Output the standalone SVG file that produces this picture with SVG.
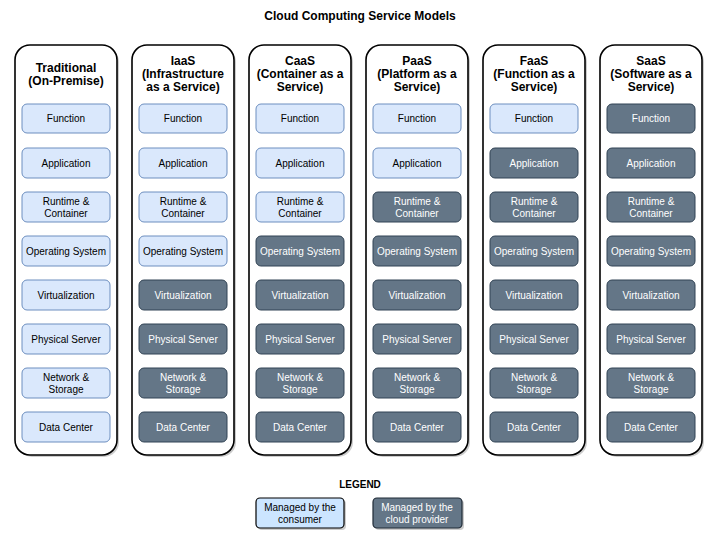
<svg xmlns="http://www.w3.org/2000/svg" width="721" height="542" viewBox="0 0 721 542">
<style>
text{font-family:"Liberation Sans",Arial,sans-serif;text-anchor:middle}
.t{font-size:12px;font-weight:bold;fill:#000}
.h{font-size:12px;font-weight:bold;fill:#000}
.col{fill:#fff;stroke:#000;stroke-width:1.6}
.sh{fill:#999;opacity:0.5}
.c{fill:#dae8fc;stroke:#6c8ebf;stroke-width:1}
.p{fill:#647687;stroke:#314354;stroke-width:1}
.ct{font-size:10px;fill:#000}
.pt{font-size:10px;fill:#fff}
.lc{fill:#cce5ff;stroke:#000;stroke-width:1.2}
.lp{fill:#647687;stroke:#1f2a36;stroke-width:1.2}
</style>
<defs>
<g id="colbg"><rect class="sh" x="2" y="2" width="102" height="410" rx="15"/><rect class="col" x="0" y="0" width="102" height="410" rx="15"/></g>
</defs>
<text class="t" x="360" y="20">Cloud Computing Service Models</text>

<g id="col-traditional">
<use href="#colbg" x="15" y="45"/>
<text class="h" x="66" y="72">Traditional</text>
<text class="h" x="66" y="85">(On-Premise)</text>
<rect class="c" x="22" y="104" width="88" height="29" rx="5"/><text class="ct" x="66" y="122">Function</text>
<rect class="c" x="22" y="148" width="88" height="30" rx="5"/><text class="ct" x="66" y="167">Application</text>
<rect class="c" x="22" y="192" width="88" height="30" rx="5"/><text class="ct" x="66" y="205">Runtime &amp;</text><text class="ct" x="66" y="217">Container</text>
<rect class="c" x="22" y="236" width="88" height="30" rx="5"/><text class="ct" x="66" y="255">Operating System</text>
<rect class="c" x="22" y="280" width="88" height="30" rx="5"/><text class="ct" x="66" y="299">Virtualization</text>
<rect class="c" x="22" y="324" width="88" height="30" rx="5"/><text class="ct" x="66" y="343">Physical Server</text>
<rect class="c" x="22" y="368" width="88" height="30" rx="5"/><text class="ct" x="66" y="381">Network &amp;</text><text class="ct" x="66" y="393">Storage</text>
<rect class="c" x="22" y="412" width="88" height="30" rx="5"/><text class="ct" x="66" y="431">Data Center</text>
</g>

<g id="col-iaas">
<use href="#colbg" x="132" y="45"/>
<text class="h" x="183" y="65">IaaS</text>
<text class="h" x="183" y="78">(Infrastructure</text>
<text class="h" x="183" y="91">as a Service)</text>
<rect class="c" x="139" y="104" width="88" height="29" rx="5"/><text class="ct" x="183" y="122">Function</text>
<rect class="c" x="139" y="148" width="88" height="30" rx="5"/><text class="ct" x="183" y="167">Application</text>
<rect class="c" x="139" y="192" width="88" height="30" rx="5"/><text class="ct" x="183" y="205">Runtime &amp;</text><text class="ct" x="183" y="217">Container</text>
<rect class="c" x="139" y="236" width="88" height="30" rx="5"/><text class="ct" x="183" y="255">Operating System</text>
<rect class="p" x="139" y="280" width="88" height="30" rx="5"/><text class="pt" x="183" y="299">Virtualization</text>
<rect class="p" x="139" y="324" width="88" height="30" rx="5"/><text class="pt" x="183" y="343">Physical Server</text>
<rect class="p" x="139" y="368" width="88" height="30" rx="5"/><text class="pt" x="183" y="381">Network &amp;</text><text class="pt" x="183" y="393">Storage</text>
<rect class="p" x="139" y="412" width="88" height="30" rx="5"/><text class="pt" x="183" y="431">Data Center</text>
</g>

<g id="col-caas">
<use href="#colbg" x="249" y="45"/>
<text class="h" x="300" y="65">CaaS</text>
<text class="h" x="300" y="78">(Container as a</text>
<text class="h" x="300" y="91">Service)</text>
<rect class="c" x="256" y="104" width="88" height="29" rx="5"/><text class="ct" x="300" y="122">Function</text>
<rect class="c" x="256" y="148" width="88" height="30" rx="5"/><text class="ct" x="300" y="167">Application</text>
<rect class="c" x="256" y="192" width="88" height="30" rx="5"/><text class="ct" x="300" y="205">Runtime &amp;</text><text class="ct" x="300" y="217">Container</text>
<rect class="p" x="256" y="236" width="88" height="30" rx="5"/><text class="pt" x="300" y="255">Operating System</text>
<rect class="p" x="256" y="280" width="88" height="30" rx="5"/><text class="pt" x="300" y="299">Virtualization</text>
<rect class="p" x="256" y="324" width="88" height="30" rx="5"/><text class="pt" x="300" y="343">Physical Server</text>
<rect class="p" x="256" y="368" width="88" height="30" rx="5"/><text class="pt" x="300" y="381">Network &amp;</text><text class="pt" x="300" y="393">Storage</text>
<rect class="p" x="256" y="412" width="88" height="30" rx="5"/><text class="pt" x="300" y="431">Data Center</text>
</g>

<g id="col-paas">
<use href="#colbg" x="366" y="45"/>
<text class="h" x="417" y="65">PaaS</text>
<text class="h" x="417" y="78">(Platform as a</text>
<text class="h" x="417" y="91">Service)</text>
<rect class="c" x="373" y="104" width="88" height="29" rx="5"/><text class="ct" x="417" y="122">Function</text>
<rect class="c" x="373" y="148" width="88" height="30" rx="5"/><text class="ct" x="417" y="167">Application</text>
<rect class="p" x="373" y="192" width="88" height="30" rx="5"/><text class="pt" x="417" y="205">Runtime &amp;</text><text class="pt" x="417" y="217">Container</text>
<rect class="p" x="373" y="236" width="88" height="30" rx="5"/><text class="pt" x="417" y="255">Operating System</text>
<rect class="p" x="373" y="280" width="88" height="30" rx="5"/><text class="pt" x="417" y="299">Virtualization</text>
<rect class="p" x="373" y="324" width="88" height="30" rx="5"/><text class="pt" x="417" y="343">Physical Server</text>
<rect class="p" x="373" y="368" width="88" height="30" rx="5"/><text class="pt" x="417" y="381">Network &amp;</text><text class="pt" x="417" y="393">Storage</text>
<rect class="p" x="373" y="412" width="88" height="30" rx="5"/><text class="pt" x="417" y="431">Data Center</text>
</g>

<g id="col-faas">
<use href="#colbg" x="483" y="45"/>
<text class="h" x="534" y="65">FaaS</text>
<text class="h" x="534" y="78">(Function as a</text>
<text class="h" x="534" y="91">Service)</text>
<rect class="c" x="490" y="104" width="88" height="29" rx="5"/><text class="ct" x="534" y="122">Function</text>
<rect class="p" x="490" y="148" width="88" height="30" rx="5"/><text class="pt" x="534" y="167">Application</text>
<rect class="p" x="490" y="192" width="88" height="30" rx="5"/><text class="pt" x="534" y="205">Runtime &amp;</text><text class="pt" x="534" y="217">Container</text>
<rect class="p" x="490" y="236" width="88" height="30" rx="5"/><text class="pt" x="534" y="255">Operating System</text>
<rect class="p" x="490" y="280" width="88" height="30" rx="5"/><text class="pt" x="534" y="299">Virtualization</text>
<rect class="p" x="490" y="324" width="88" height="30" rx="5"/><text class="pt" x="534" y="343">Physical Server</text>
<rect class="p" x="490" y="368" width="88" height="30" rx="5"/><text class="pt" x="534" y="381">Network &amp;</text><text class="pt" x="534" y="393">Storage</text>
<rect class="p" x="490" y="412" width="88" height="30" rx="5"/><text class="pt" x="534" y="431">Data Center</text>
</g>

<g id="col-saas">
<use href="#colbg" x="600" y="45"/>
<text class="h" x="651" y="65">SaaS</text>
<text class="h" x="651" y="78">(Software as a</text>
<text class="h" x="651" y="91">Service)</text>
<rect class="p" x="607" y="104" width="88" height="29" rx="5"/><text class="pt" x="651" y="122">Function</text>
<rect class="p" x="607" y="148" width="88" height="30" rx="5"/><text class="pt" x="651" y="167">Application</text>
<rect class="p" x="607" y="192" width="88" height="30" rx="5"/><text class="pt" x="651" y="205">Runtime &amp;</text><text class="pt" x="651" y="217">Container</text>
<rect class="p" x="607" y="236" width="88" height="30" rx="5"/><text class="pt" x="651" y="255">Operating System</text>
<rect class="p" x="607" y="280" width="88" height="30" rx="5"/><text class="pt" x="651" y="299">Virtualization</text>
<rect class="p" x="607" y="324" width="88" height="30" rx="5"/><text class="pt" x="651" y="343">Physical Server</text>
<rect class="p" x="607" y="368" width="88" height="30" rx="5"/><text class="pt" x="651" y="381">Network &amp;</text><text class="pt" x="651" y="393">Storage</text>
<rect class="p" x="607" y="412" width="88" height="30" rx="5"/><text class="pt" x="651" y="431">Data Center</text>
</g>

<g id="legend">
<text class="t" x="360" y="488" style="font-size:10px">LEGEND</text>
<g id="legend-consumer">
<rect class="sh" x="258" y="500" width="88" height="30" rx="4"/>
<rect class="lc" x="256" y="498" width="88" height="30" rx="4"/>
<text class="ct" x="300" y="511">Managed by the</text><text class="ct" x="300" y="523">consumer</text>
</g>
<g id="legend-provider">
<rect class="sh" x="375" y="500" width="89" height="30" rx="4"/>
<rect class="lp" x="373" y="498" width="89" height="30" rx="4"/>
<text class="pt" x="417" y="511">Managed by the</text><text class="pt" x="417" y="523">cloud provider</text>
</g>
</g>
<g id="connectors"/>
</svg>
